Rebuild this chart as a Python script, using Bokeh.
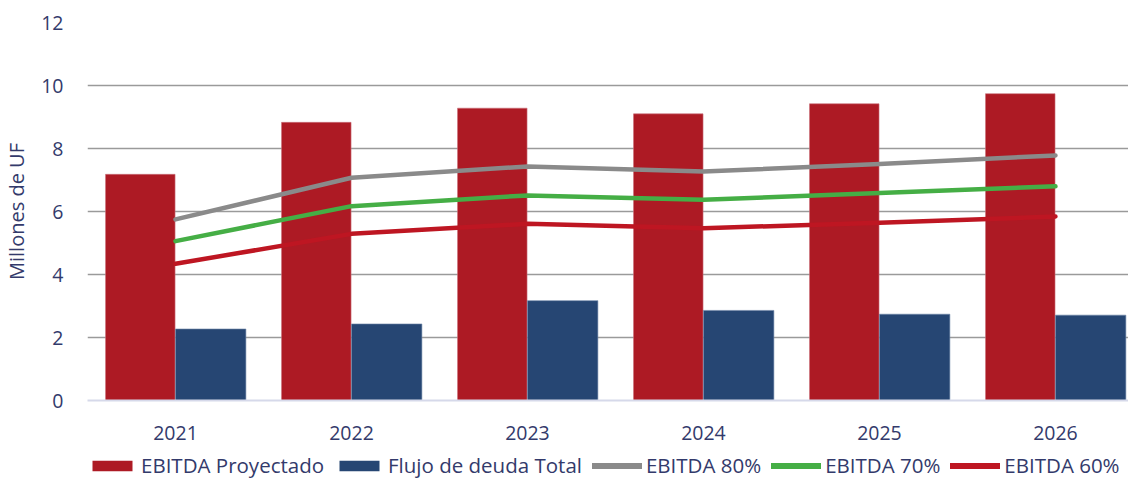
from bokeh.plotting import figure
from bokeh.layouts import column
from bokeh.models import (Range1d, FixedTicker, Grid, Legend, LegendItem, ColumnDataSource)
from bokeh.embed import file_html
from bokeh.resources import INLINE
import numpy as np

years = ["2021", "2022", "2023", "2024", "2025", "2026"]
ebitda_proyectado = [7.18, 8.83, 9.28, 9.10, 9.42, 9.74]
flujo_deuda = [2.27, 2.43, 3.17, 2.86, 2.74, 2.71]
ebitda_80 = [5.75, 7.07, 7.43, 7.27, 7.51, 7.78]
ebitda_70 = [5.06, 6.17, 6.51, 6.37, 6.59, 6.80]
ebitda_60 = [4.34, 5.29, 5.61, 5.47, 5.64, 5.84]
y_ticks = [0, 2, 4, 6, 8, 10, 12]
series_names = ["EBITDA Proyectado", "Flujo de deuda Total", "EBITDA 80%", "EBITDA 70%", "EBITDA 60%"]

FONT = "Open Sans"
TXT = "#333A6B"
C_RED_BAR, C_BLUE, C_GRAY, C_GREEN, C_RED_LINE = "#AD1A24", "#264673", "#8A8A8A", "#45AE45", "#BE1622"

xs = np.arange(len(years)) + 0.5
src = ColumnDataSource(dict(
    x=xs, xr=xs - 0.2, xb=xs + 0.2,
    ep=ebitda_proyectado, fd=flujo_deuda,
    e80=ebitda_80, e70=ebitda_70, e60=ebitda_60,
))

p = figure(width=1128, height=446, output_backend="svg", toolbar_location=None,
           x_range=Range1d(0, 5.915), y_range=Range1d(0, 12),
           min_border_left=78, min_border_right=0, min_border_top=22, min_border_bottom=46)
p.outline_line_color = None
p.background_fill_color = "white"
p.border_fill_color = "white"

p.vbar(x="xr", top="ep", width=0.395, source=src, fill_color=C_RED_BAR, line_color="#C9707A", line_width=0.6)
p.vbar(x="xb", top="fd", width=0.4, source=src, fill_color=C_BLUE, line_color="#6F86A8", line_width=0.6)
p.line(x="x", y="e80", source=src, line_color=C_GRAY, line_width=4.5, line_cap="round", line_join="round")
p.line(x="x", y="e70", source=src, line_color=C_GREEN, line_width=4.5, line_cap="round", line_join="round")
p.line(x="x", y="e60", source=src, line_color=C_RED_LINE, line_width=4.5, line_cap="round", line_join="round")

# axes
p.xaxis.ticker = FixedTicker(ticks=list(xs))
p.xaxis.major_label_overrides = {float(x): y for x, y in zip(xs, years)}
p.xaxis.major_tick_line_color = None
p.xaxis.minor_tick_line_color = None
p.xaxis.axis_line_color = "#D6D9EA"
p.xaxis.axis_line_width = 2
p.xaxis.major_label_standoff = 19
p.xaxis.major_label_text_font = FONT
p.xaxis.major_label_text_font_size = "19.5px"
p.xaxis.major_label_text_color = TXT

p.yaxis.ticker = FixedTicker(ticks=y_ticks)
p.yaxis.axis_line_color = None
p.yaxis.major_tick_line_color = None
p.yaxis.minor_tick_line_color = None
p.yaxis.major_label_standoff = 18
p.yaxis.major_label_text_font = FONT
p.yaxis.major_label_text_font_size = "19.5px"
p.yaxis.major_label_text_color = TXT
p.yaxis.axis_label = "Millones de UF"
p.yaxis.axis_label_text_font = FONT
p.yaxis.axis_label_text_font_style = "normal"
p.yaxis.axis_label_text_font_size = "20px"
p.yaxis.axis_label_text_color = TXT
p.yaxis.axis_label_standoff = 8

# grids
p.xgrid.grid_line_color = None
p.ygrid.ticker = FixedTicker(ticks=[2, 4, 6, 8, 10])
p.ygrid.grid_line_color = "#9A9A9A"
p.ygrid.grid_line_width = 1.6
p.add_layout(Grid(dimension=1, ticker=FixedTicker(ticks=[12]), grid_line_color="#E4E4E4", grid_line_width=1.6))

# legend strip (separate figure below the chart; its ranges keep the data out of view)
lg = figure(width=1128, height=33, output_backend="svg", toolbar_location=None,
            x_range=Range1d(100, 101), y_range=Range1d(100, 101), min_border=0)
lg.axis.visible = False
lg.grid.grid_line_color = None
lg.outline_line_color = None
g1 = lg.vbar(x="xr", top="ep", width=0.4, source=src, fill_color=C_RED_BAR, line_color=None)
g2 = lg.vbar(x="xb", top="fd", width=0.4, source=src, fill_color=C_BLUE, line_color=None)
g3 = lg.line(x="x", y="e80", source=src, line_color=C_GRAY, line_width=6, line_cap="round")
g4 = lg.line(x="x", y="e70", source=src, line_color=C_GREEN, line_width=6, line_cap="round")
g5 = lg.line(x="x", y="e60", source=src, line_color=C_RED_LINE, line_width=6, line_cap="round")

legend = Legend(items=[LegendItem(label=n, renderers=[r]) for n, r in zip(series_names, [g1, g2, g3, g4, g5])],
                orientation="horizontal", location=(0, 0))
legend.background_fill_alpha = 0
legend.border_line_color = None
legend.label_text_font = FONT
legend.label_text_font_size = "20.5px"
legend.label_text_color = TXT
legend.glyph_width = 50
legend.glyph_height = 13
legend.label_standoff = 4
legend.spacing = 10
legend.padding = 0
legend.margin = 0
legend.label_height = 20
lg.add_layout(legend, "center")

layout = column(p, lg, spacing=0)
open("out.html", "w").write(file_html(layout, INLINE))
